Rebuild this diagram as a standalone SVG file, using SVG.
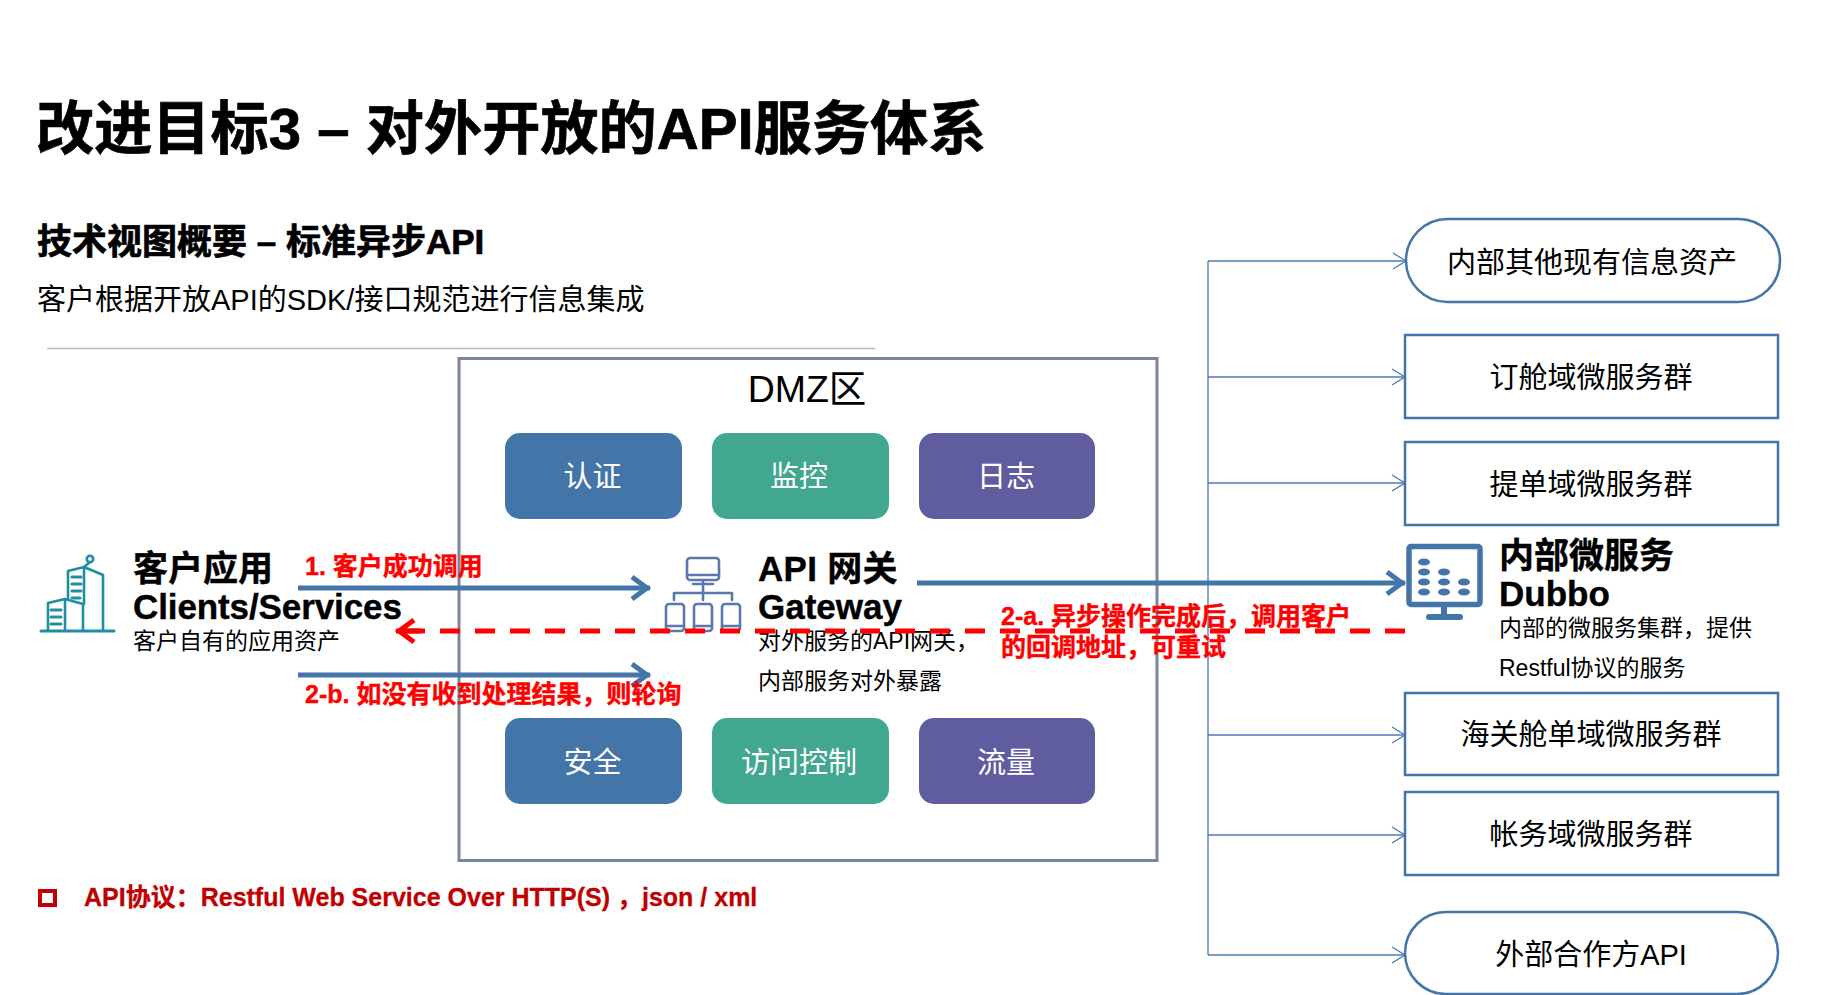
<svg xmlns="http://www.w3.org/2000/svg" width="1830" height="995" viewBox="0 0 1830 995">
<style>
text{font-family:"Liberation Sans","Noto Sans CJK SC",sans-serif;fill:#000}
.b{font-weight:700;stroke:#000;stroke-width:.7}
.r{fill:#f00;font-weight:700;font-size:25px;stroke:#f00;stroke-width:.4}
.t23{font-size:23px}
.t35{font-size:35px;font-weight:700;stroke:#000;stroke-width:.4}
.cap{font-size:29px;fill:#fff;text-anchor:middle}
.svc{font-size:29px;text-anchor:middle}
.box{fill:#fff;stroke:#4475a8;stroke-width:2.5}
.blue{fill:#4475a8}.green{fill:#41a78f}.purple{fill:#5f5ca0}
.trunk{fill:none;stroke:#4a7ab0;stroke-width:1.3}
.thin{fill:none;stroke:#4a7ab0;stroke-width:1.3;marker-end:url(#open)}
.thick{fill:none;stroke:#4475a8;stroke-width:5;marker-end:url(#chev)}
.ico{fill:none;stroke-width:2.6;stroke-linejoin:round;stroke-linecap:round}
</style>
<defs>
<marker id="open" markerUnits="userSpaceOnUse" markerWidth="16" markerHeight="20" refX="14" refY="10" orient="auto"><path d="M1,2 L14,10 L1,18" fill="none" stroke="#4a7ab0" stroke-width="1.3"/></marker>
<marker id="chev" markerUnits="userSpaceOnUse" markerWidth="28" markerHeight="30" refX="24" refY="15" orient="auto"><path d="M6,4 L21,15 L6,26" fill="none" stroke="#4475a8" stroke-width="5"/></marker>
<marker id="chevr" markerUnits="userSpaceOnUse" markerWidth="28" markerHeight="30" refX="24" refY="15" orient="auto"><path d="M6,4 L21,15 L6,26" fill="none" stroke="#f00" stroke-width="5"/></marker>
</defs>
<rect width="1830" height="995" fill="#fff"/>
<g id="header">
<text class="b" x="36" y="149" font-size="58.200">改进目标3 – 对外开放的API服务体系</text>
<text class="b" x="37" y="254" font-size="35">技术视图概要 – 标准异步API</text>
<text x="37" y="310" font-size="29">客户根据开放API的SDK/接口规范进行信息集成</text>
<line x1="47" y1="348.500" x2="875" y2="348.500" stroke="#b4b8bd" stroke-width="1.5"/>
</g>
<g id="dmz">
<rect x="459" y="358.500" width="698" height="502" fill="none" stroke="#7b8799" stroke-width="3"/>
<text x="807" y="402" font-size="37.500" text-anchor="middle">DMZ区</text>
</g>
<g id="auth"><rect class="blue" x="505" y="433" width="177" height="86" rx="15"/><text class="cap" x="592.500" y="487">认证</text></g>
<g id="monitor"><rect class="green" x="712" y="433" width="177" height="86" rx="15"/><text class="cap" x="799" y="487">监控</text></g>
<g id="log"><rect class="purple" x="919" y="433" width="176" height="86" rx="15"/><text class="cap" x="1006" y="487">日志</text></g>
<g id="security"><rect class="blue" x="505" y="718" width="177" height="86" rx="15"/><text class="cap" x="592.500" y="773">安全</text></g>
<g id="access"><rect class="green" x="712" y="718" width="177" height="86" rx="15"/><text class="cap" x="799" y="773">访问控制</text></g>
<g id="traffic"><rect class="purple" x="919" y="718" width="176" height="86" rx="15"/><text class="cap" x="1006" y="773">流量</text></g>
<g id="client">
<g class="ico" stroke="#1f8ea3">
<path d="M41,631 H114" stroke-width="3"/>
<path d="M48,631 V603 L65,599 L83,604 V631 M65,599 V631"/>
<path d="M68,598 V571 L84,567 L103,575 V631 M84,567 V604 M84,567 L90,562"/>
<circle cx="90" cy="559" r="3.200"/>
<path d="M51,610 H61 M51,617 H61 M51,624 H61 M72,577 H81 M72,584 H81 M72,591 H81 M72,598 H80" stroke-width="3"/>
</g>
<text class="t35" x="133" y="581">客户应用</text>
<text class="t35" x="133" y="619" letter-spacing="-.1">Clients/Services</text>
<text class="t23" x="133" y="649">客户自有的应用资产</text>
</g>
<g id="gateway">
<g class="ico" stroke="#5b78ad">
<rect x="687" y="558" width="32" height="22" rx="3"/>
<path d="M687,575 H719 M693,584 H713 M703,580 V593 M674,600 V593 H732 V600 M703,593 V600"/>
<rect x="666" y="604" width="18" height="27" rx="3"/>
<rect x="694" y="604" width="18" height="27" rx="3"/>
<rect x="722" y="604" width="18" height="27" rx="3"/>
<path d="M666,626 H684 M694,626 H712 M722,626 H740"/>
</g>
<text class="t35" x="758" y="581" letter-spacing=".3">API 网关</text>
<text class="t35" x="758" y="619">Gateway</text>
<text class="t23" x="758" y="649">对外服务的API网关，</text>
<text class="t23" x="758" y="689">内部服务对外暴露</text>
</g>
<g id="connectors">
<path class="trunk" d="M1208,261 V955"/>
<path class="thin" d="M1208,261 H1406"/>
<path class="thin" d="M1208,377 H1405"/>
<path class="thin" d="M1208,483 H1405"/>
<path class="thin" d="M1208,735 H1405"/>
<path class="thin" d="M1208,835 H1405"/>
<path class="thin" d="M1208,955 H1405"/>
<path class="thick" d="M298,588 H650"/>
<path class="thick" d="M298,675 H650"/>
<path class="thick" d="M917,583 H1405"/>
<path d="M1405,631 H405" fill="none" stroke="#f00" stroke-width="5" stroke-dasharray="20 15"/>
<path d="M420,631 H396" fill="none" stroke="#f00" stroke-width="5" marker-end="url(#chevr)"/>
</g>
<g id="labels">
<text class="r" x="305" y="575">1. 客户成功调用</text>
<text class="r" x="305" y="703">2-b. 如没有收到处理结果，则轮询</text>
<text class="r" x="1001" y="625">2-a. 异步操作完成后，调用客户</text>
<text class="r" x="1001" y="656">的回调地址，可重试</text>
</g>
<g id="asset"><rect class="box" x="1406" y="219" width="374" height="83" rx="41.500"/><text class="svc" x="1592" y="273">内部其他现有信息资产</text></g>
<g id="booking"><rect class="box" x="1405" y="335" width="373" height="83"/><text class="svc" x="1591" y="388">订舱域微服务群</text></g>
<g id="bl"><rect class="box" x="1405" y="442" width="373" height="83"/><text class="svc" x="1591" y="495">提单域微服务群</text></g>
<g id="dubbo">
<rect x="1409" y="546.500" width="71" height="58" rx="2" fill="#fff" stroke="#4475a8" stroke-width="5.500"/>
<path d="M1444,607 V617 M1429,617 H1460" stroke="#4475a8" stroke-width="6" stroke-linecap="round" fill="none"/>
<g class="blue">
<ellipse cx="1424" cy="562" rx="6" ry="3.600"/>
<ellipse cx="1424" cy="572" rx="6" ry="3.600"/><ellipse cx="1444" cy="572" rx="6" ry="3.600"/>
<ellipse cx="1424" cy="582" rx="6" ry="3.600"/><ellipse cx="1444" cy="582" rx="6" ry="3.600"/><ellipse cx="1464" cy="582" rx="6" ry="3.600"/>
<ellipse cx="1424" cy="592" rx="6" ry="3.600"/><ellipse cx="1444" cy="592" rx="6" ry="3.600"/><ellipse cx="1464" cy="592" rx="6" ry="3.600"/>
</g>
<text class="t35" x="1499" y="568">内部微服务</text>
<text class="t35" x="1499" y="606">Dubbo</text>
<text class="t23" x="1499" y="636">内部的微服务集群，提供</text>
<text class="t23" x="1499" y="676">Restful协议的服务</text>
</g>
<g id="customs"><rect class="box" x="1405" y="693" width="373" height="82"/><text class="svc" x="1591" y="745">海关舱单域微服务群</text></g>
<g id="finance"><rect class="box" x="1405" y="792" width="373" height="83"/><text class="svc" x="1591" y="845">帐务域微服务群</text></g>
<g id="partner"><rect class="box" x="1405" y="912" width="373" height="82" rx="41"/><text class="svc" x="1591" y="965">外部合作方API</text></g>
<g id="note">
<rect x="40" y="891" width="15" height="14" fill="none" stroke="#c00000" stroke-width="4"/>
<text class="b" x="84" y="906" font-size="25" style="fill:#c00000;stroke:#c00000;stroke-width:.3">API协议：Restful Web Service Over HTTP(S) ，json / xml</text>
</g>
</svg>
